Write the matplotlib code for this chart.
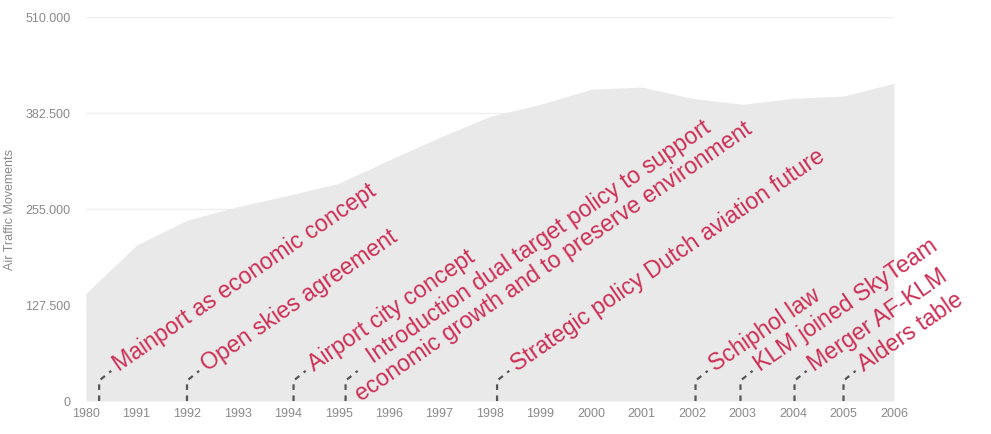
import matplotlib
matplotlib.use('Agg')
import matplotlib.pyplot as plt
from matplotlib.ticker import FuncFormatter

plt.rcParams['font.family'] = ['Liberation Sans', 'DejaVu Sans']

years = ['1980', '1991', '1992', '1993', '1994', '1995', '1996', '1997', '1998',
         '1999', '2000', '2001', '2002', '2003', '2004', '2005', '2006']
movements = [143000, 207000, 240000, 258000, 273000, 289000, 320000, 350000, 378000,
             394000, 414000, 417000, 402000, 394000, 402000, 405000, 422000]

events = ['Mainport as economic concept',
          'Open skies agreement',
          'Airport city concept',
          'Introduction dual target policy to support\neconomic growth and to preserve environment',
          'Strategic policy Dutch aviation future',
          'Schiphol law',
          'KLM joined SkyTeam',
          'Merger AF-KLM',
          'Alders table']
event_pos = [0.26, 2.0, 4.11, 5.14, 8.14, 12.07, 12.96, 14.03, 15.0]

yticks = [0, 127500, 255000, 382500, 510000]

fig = plt.figure(figsize=(9.91, 4.34), dpi=100)
ax = fig.add_axes([86 / 991, 1 - 401 / 434, 808 / 991, 384 / 434])

x = list(range(len(years)))
ax.fill_between(x, 0, movements, color='#e9e9e9', lw=0, zorder=1)

ax.set_xlim(0, len(years) - 1)
ax.set_ylim(0, 510000)
ax.set_xticks(x)
ax.set_xticklabels(years)
ax.set_yticks(yticks)
ax.yaxis.set_major_formatter(FuncFormatter(lambda v, p: '{:,.0f}'.format(v).replace(',', '.')))
ax.tick_params(axis='both', length=0, labelsize=9, colors='#8a8a8a')
ax.tick_params(axis='y', pad=11)
ax.tick_params(axis='x', pad=5)
ax.grid(axis='y', color='#efefef', lw=1, zorder=0)
ax.set_axisbelow(True)
for s in ax.spines.values():
    s.set_visible(False)
ax.set_ylabel('Air Traffic Movements', fontsize=9, color='#8a8a8a')
ax.yaxis.set_label_coords(-70 / 808, 0.5)

for label, p in zip(events, event_pos):
    ax.plot([p, p, p + 0.24], [0, 27000, 40000], color='#555555', lw=1.6,
            ls=(0, (2.5, 2.5)), zorder=3, solid_capstyle='butt')
    off = (8, -1)
    if '\n' in label:
        off = (2, -30)
    ax.annotate(label, xy=(p + 0.24, 40000), xytext=off, textcoords='offset pixels',
                rotation=34.5, rotation_mode='anchor', ha='left', va='baseline',
                multialignment='center', fontsize=16.7, color='#cc2f55', zorder=4,
                linespacing=1.1)

fig.savefig('out.png', dpi=100)
